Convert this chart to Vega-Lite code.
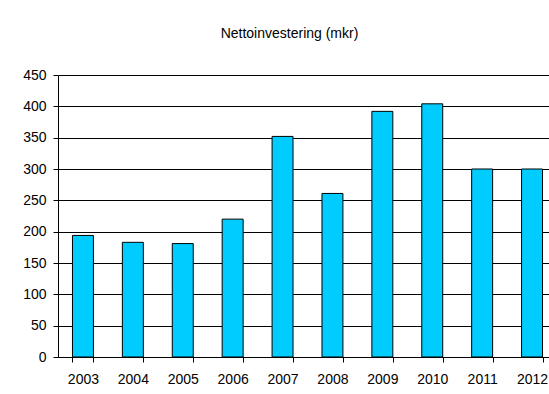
{
  "$schema": "https://vega.github.io/schema/vega-lite/v6.json",
  "autosize": {"type": "none"},
  "padding": {"left": 58, "top": 75, "right": 0, "bottom": 37},
  "width": 491,
  "height": 282,
  "background": "white",
  "title": {
    "text": "Nettoinvestering (mkr)",
    "font": "Liberation Sans",
    "fontSize": 14,
    "fontWeight": "normal",
    "color": "#000000",
    "anchor": "middle",
    "dx": -14,
    "offset": 27
  },
  "data": {
    "values": [
      {"year": "2003", "value": 194},
      {"year": "2004", "value": 183},
      {"year": "2005", "value": 181},
      {"year": "2006", "value": 220},
      {"year": "2007", "value": 352},
      {"year": "2008", "value": 261},
      {"year": "2009", "value": 392},
      {"year": "2010", "value": 404},
      {"year": "2011", "value": 300},
      {"year": "2012", "value": 300}
    ]
  },
  "mark": {"type": "bar", "color": "#00CCFF", "stroke": "#000000", "strokeWidth": 1},
  "encoding": {
    "x": {
      "field": "year",
      "type": "ordinal",
      "scale": {"range": [0, 499], "paddingInner": 0.58, "paddingOuter": 0.29},
      "axis": {
        "title": null,
        "labelAngle": 0,
        "labelFont": "Liberation Sans",
        "labelFontSize": 14,
        "labelColor": "#000000",
        "labelPadding": 10,
        "tickBand": "extent",
        "tickSize": 5,
        "tickColor": "#000000",
        "domainColor": "#000000",
        "grid": false
      }
    },
    "y": {
      "field": "value",
      "type": "quantitative",
      "scale": {"domain": [0, 450], "nice": false},
      "axis": {
        "title": null,
        "values": [0, 50, 100, 150, 200, 250, 300, 350, 400, 450],
        "labelFont": "Liberation Sans",
        "labelFontSize": 14,
        "labelColor": "#000000",
        "labelPadding": 7,
        "tickSize": 5,
        "tickColor": "#000000",
        "domainColor": "#000000",
        "gridColor": "#000000",
        "gridOpacity": 1,
        "gridWidth": 1
      }
    }
  },
  "config": {"view": {"stroke": null}}
}
